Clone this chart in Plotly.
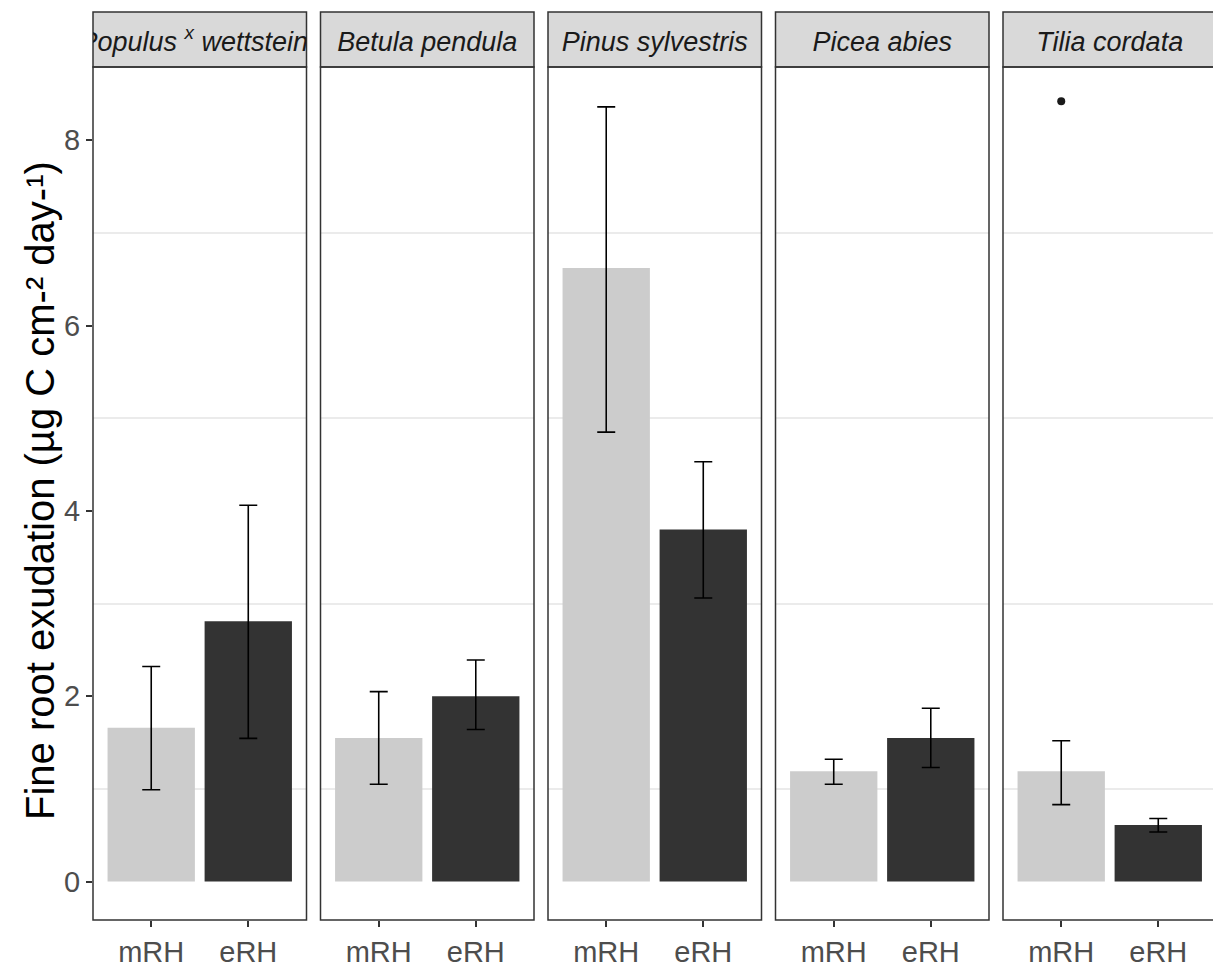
import plotly.graph_objects as go

# ---------------- data ----------------
species = ["<i>Populus <sup>x</sup> wettsteinii</i>", "<i>Betula pendula</i>",
           "<i>Pinus sylvestris</i>", "<i>Picea abies</i>", "<i>Tilia cordata</i>"]
treatments = ["mRH", "eRH"]
mean_mRH = [1.66, 1.55, 6.62, 1.19, 1.19]
mean_eRH = [2.81, 2.00, 3.80, 1.55, 0.61]
upper_mRH = [2.32, 2.05, 8.36, 1.32, 1.52]
lower_mRH = [0.99, 1.05, 4.85, 1.05, 0.83]
upper_eRH = [4.06, 2.39, 4.53, 1.87, 0.68]
lower_eRH = [1.545, 1.64, 3.06, 1.23, 0.535]
outlier_species = [4]
outlier_treatment = ["mRH"]
outlier_value = [8.42]
y_ticks = [0, 2, 4, 6, 8]
y_minor = [1, 3, 5, 7]
y_title = "Fine root exudation (µg C cm-² day-¹)"

# ---------------- layout helpers ----------------
W, H = 1213, 971
def px(x): return x / W
def py(y): return 1 - y / H

bar_colors = ["#CCCCCC", "#333333"]
panel_lefts = [93, 320.5, 548, 775.5, 1003]
panel_w = 213.5
panel_top, panel_bot = 67, 920
strip_top = 12
units_px = panel_w / 2.2

fig = go.Figure()
layout = dict(width=W, height=H, margin=dict(l=0, r=0, t=0, b=0),
              paper_bgcolor="white", plot_bgcolor="rgba(0,0,0,0)",
              showlegend=False, shapes=[], annotations=[])

font_fam = "Liberation Sans, Arial, sans-serif"

for i, sp in enumerate(species):
    L = panel_lefts[i]
    R = min(L + panel_w, W)
    xr_hi = -0.6 + (R - L) / units_px
    n = i + 1
    xa = f"x{n}" if n > 1 else "x"
    ya = f"y{n}" if n > 1 else "y"
    ups = [upper_mRH[i] - mean_mRH[i], upper_eRH[i] - mean_eRH[i]]
    los = [mean_mRH[i] - lower_mRH[i], mean_eRH[i] - lower_eRH[i]]
    fig.add_trace(go.Bar(
        x=treatments, y=[mean_mRH[i], mean_eRH[i]], width=0.9,
        marker=dict(color=bar_colors, line=dict(width=0)),
        error_y=dict(type="data", symmetric=False, array=ups, arrayminus=los,
                     color="black", thickness=1.6, width=9),
        xaxis=xa, yaxis=ya, hoverinfo="skip"))
    # outliers
    ox = [t for s, t in zip(outlier_species, outlier_treatment) if s == i]
    oy = [v for s, v in zip(outlier_species, outlier_value) if s == i]
    if ox:
        fig.add_trace(go.Scatter(x=ox, y=oy, mode="markers",
                                 marker=dict(color="#1A1A1A", size=8),
                                 xaxis=xa, yaxis=ya, hoverinfo="skip"))
    layout[f"xaxis{n}" if n > 1 else "xaxis"] = dict(
        domain=[px(L), px(R)], range=[-0.6, xr_hi], anchor=ya,
        type="category", categoryorder="array", categoryarray=treatments,
        showgrid=False, zeroline=False, showline=False,
        ticks="outside", ticklen=6, tickwidth=1.5, tickcolor="#333333",
        tickfont=dict(family=font_fam, size=29, color="#4D4D4D"))
    layout[f"yaxis{n}" if n > 1 else "yaxis"] = dict(
        domain=[py(panel_bot), py(panel_top)], range=[-0.415, 8.79],
        anchor=xa, tickvals=y_ticks, showgrid=False, zeroline=False,
        showline=False, showticklabels=(i == 0),
        ticks="outside" if i == 0 else "", ticklen=6, tickwidth=1.5,
        tickcolor="#333333",
        tickfont=dict(family=font_fam, size=29, color="#4D4D4D"),
        minor=dict(tickvals=y_minor, showgrid=True, gridcolor="#EBEBEB",
                   gridwidth=1.5, ticks=""))
    # strip axes
    sn = n + 5
    layout[f"xaxis{sn}"] = dict(domain=[px(L), px(R)],
                                range=[0, (R - L) / panel_w], anchor=f"y{sn}",
                                visible=False, fixedrange=True)
    layout[f"yaxis{sn}"] = dict(domain=[py(panel_top), py(strip_top)],
                                range=[0, 1], anchor=f"x{sn}",
                                visible=False, fixedrange=True)
    fig.add_trace(go.Scatter(x=[0.5], y=[0.42], mode="text", text=[sp],
                             textposition="middle center", cliponaxis=True,
                             textfont=dict(family=font_fam, size=27, color="#1A1A1A"),
                             xaxis=f"x{sn}", yaxis=f"y{sn}", hoverinfo="skip"))
    # strip background + border
    layout["shapes"].append(dict(type="rect", xref="paper", yref="paper",
                                 x0=px(L), x1=px(L + panel_w), y0=py(panel_top), y1=py(strip_top),
                                 fillcolor="#D9D9D9", line=dict(color="#333333", width=1.5),
                                 layer="below"))
    # panel border
    layout["shapes"].append(dict(type="rect", xref="paper", yref="paper",
                                 x0=px(L), x1=px(L + panel_w), y0=py(panel_bot), y1=py(panel_top),
                                 fillcolor="rgba(0,0,0,0)", line=dict(color="#333333", width=1.5),
                                 layer="above"))

layout["annotations"].append(dict(
    text=y_title, textangle=-90, xref="paper", yref="paper",
    x=px(40), y=py(491), showarrow=False,
    xanchor="center", yanchor="middle",
    font=dict(family=font_fam, size=40, color="black")))

fig.update_layout(**layout)
fig.write_html("out.html", config={"displayModeBar": False},
               post_script="document.body.style.margin='0';document.body.style.padding='0';")
